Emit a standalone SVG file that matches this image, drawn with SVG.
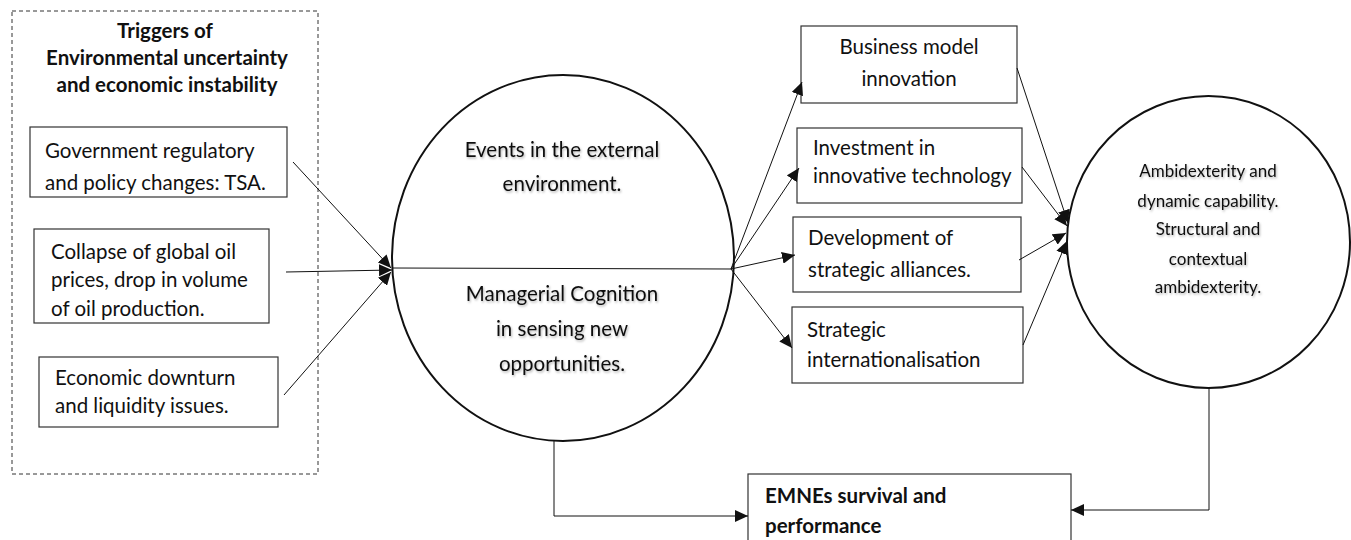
<svg xmlns="http://www.w3.org/2000/svg" width="1351" height="540" viewBox="0 0 1351 540">
<style>
text{font-family:Lato,"Liberation Sans",sans-serif;fill:#111;}
.t{font-size:20.5px;}
.tb{font-size:20.5px;font-weight:bold;}
.ts{font-size:17px;}
.c{text-anchor:middle;}
.box{fill:#fff;stroke:#333;stroke-width:1.2;}
.circ{fill:#fff;stroke:#111;stroke-width:2;}
.ln{fill:none;stroke:#111;stroke-width:1;}
.sh{filter:url(#shadow);}
</style>
<defs>
<marker id="ah" markerUnits="userSpaceOnUse" markerWidth="14" markerHeight="12" refX="13" refY="6" orient="auto">
<path d="M0,0 L13,6 L0,12 Z" fill="#111"/>
</marker>
<filter id="shadow" x="-10%" y="-20%" width="120%" height="150%">
<feDropShadow dx="1" dy="1.5" stdDeviation="0.8" flood-color="#000" flood-opacity="0.3"/>
</filter>
</defs>
<rect width="1351" height="540" fill="#fff"/>

<g id="triggers">
<rect x="12" y="11" width="306" height="463" fill="none" stroke="#333" stroke-width="1" stroke-dasharray="4,3"/>
<text class="tb c" x="165" y="38">Triggers of</text>
<text class="tb c" x="167" y="65">Environmental uncertainty</text>
<text class="tb c" x="167" y="92">and economic instability</text>
</g>

<g id="gov">
<rect class="box" x="30" y="127" width="257" height="70"/>
<text class="t" x="45" y="158">Government regulatory</text>
<text class="t" x="45" y="190">and policy changes: TSA.</text>
</g>

<g id="oil">
<rect class="box" x="34" y="229" width="235" height="94"/>
<text class="t" x="51" y="259">Collapse of global oil</text>
<text class="t" x="51" y="287">prices, drop in volume</text>
<text class="t" x="51" y="316">of oil production.</text>
</g>

<g id="econ">
<rect class="box" x="39" y="357" width="239" height="70"/>
<text class="t" x="55" y="385">Economic downturn</text>
<text class="t" x="55" y="413">and liquidity issues.</text>
</g>

<g id="events">
<ellipse class="circ" cx="563" cy="258" rx="171" ry="183"/>
<g class="sh">
<text class="t c" x="562" y="157">Events in the external</text>
<text class="t c" x="562" y="191">environment.</text>
<text class="t c" x="562" y="301">Managerial Cognition</text>
<text class="t c" x="562" y="336">in sensing new</text>
<text class="t c" x="562" y="371">opportunities.</text>
</g>
</g>

<g id="bmi">
<rect class="box" x="801" y="26" width="216" height="77"/>
<text class="t c" x="909" y="54">Business model</text>
<text class="t c" x="909" y="86">innovation</text>
</g>

<g id="invest">
<rect class="box" x="797" y="128" width="225" height="75"/>
<text class="t" x="813" y="155">Investment in</text>
<text class="t" x="813" y="183">innovative technology</text>
</g>

<g id="alliances">
<rect class="box" x="793" y="217" width="228" height="75"/>
<text class="t" x="808" y="245">Development of</text>
<text class="t" x="808" y="277">strategic alliances.</text>
</g>

<g id="intl">
<rect class="box" x="792" y="307" width="231" height="76"/>
<text class="t" x="807" y="337">Strategic</text>
<text class="t" x="807" y="367">internationalisation</text>
</g>

<g id="ambi">
<ellipse class="circ" cx="1208.5" cy="242" rx="141.5" ry="146"/>
<g class="sh">
<text class="ts c" x="1208" y="177">Ambidexterity and</text>
<text class="ts c" x="1208" y="207">dynamic capability.</text>
<text class="ts c" x="1208" y="235">Structural and</text>
<text class="ts c" x="1208" y="265">contextual</text>
<text class="ts c" x="1208" y="293">ambidexterity.</text>
</g>
</g>

<g id="emnes">
<rect class="box" x="748" y="474" width="323" height="80"/>
<text class="tb" x="765" y="503">EMNEs survival and</text>
<text class="tb" x="765" y="533">performance</text>
</g>

<g id="connectors">
<line class="ln" x1="293" y1="162" x2="391" y2="268" marker-end="url(#ah)"/>
<line class="ln" x1="286" y1="272" x2="392" y2="270" marker-end="url(#ah)"/>
<line class="ln" x1="284" y1="395" x2="391" y2="272" marker-end="url(#ah)"/>
<line class="ln" x1="392" y1="268" x2="731" y2="269"/>
<line class="ln" x1="731" y1="269" x2="802" y2="82" marker-end="url(#ah)"/>
<line class="ln" x1="731" y1="269" x2="799" y2="168" marker-end="url(#ah)"/>
<line class="ln" x1="731" y1="269" x2="795" y2="255" marker-end="url(#ah)"/>
<line class="ln" x1="731" y1="269" x2="792" y2="348" marker-end="url(#ah)"/>
<line class="ln" x1="1017" y1="68" x2="1068" y2="223" marker-end="url(#ah)"/>
<line class="ln" x1="1022" y1="167" x2="1067" y2="226" marker-end="url(#ah)"/>
<line class="ln" x1="1019" y1="260" x2="1066" y2="233" marker-end="url(#ah)"/>
<line class="ln" x1="1023" y1="345" x2="1067" y2="241" marker-end="url(#ah)"/>
<polyline class="ln" points="554,441 554,516 748,516" marker-end="url(#ah)"/>
<polyline class="ln" points="1209,388 1209,510 1071,510" marker-end="url(#ah)"/>
</g>
</svg>
